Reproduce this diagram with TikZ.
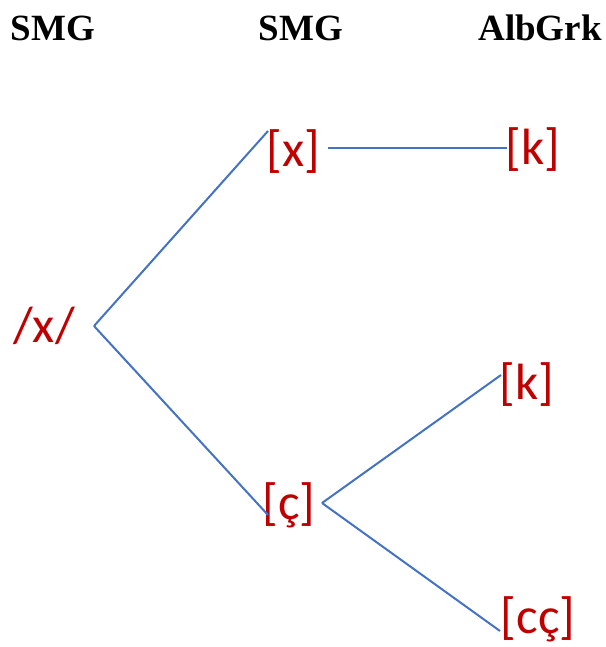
\documentclass[tikz,border=0pt]{standalone}
\usepackage{fontspec}
\setmainfont{Liberation Serif}
\newfontfamily\lblfont{Carlito}
\definecolor{lblred}{HTML}{C00000}
\definecolor{lnblue}{HTML}{4472C4}
\begin{document}
\begin{tikzpicture}[x=1pt,y=-1pt,
  hdr/.style={font=\fontsize{37}{40}\selectfont\bfseries, inner sep=0pt, anchor=center},
  lbl/.style={font=\lblfont\fontsize{51}{55}\selectfont, text=lblred, inner sep=0pt, anchor=center},
  conn/.style={draw=lnblue, line width=2pt}]
\useasboundingbox (0,0) rectangle (605,647);
% headers
\node[hdr] (h1) at (53,28) {SMG};
\node[hdr] (h2) at (301,28) {SMG};
\node[hdr] (h3) at (540,28) {AlbGrk};
% labels
\node[lbl] (sx) at (44,326) {/x/};
\node[lbl] (px) at (293.5,151.5) {[x]};
\node[lbl] (kt) at (533,150) {[k]};
\node[lbl] (pc) at (289,505) {[ç]};
\node[lbl] (km) at (527,385) {[k]};
\node[lbl] (cc) at (538,619) {[cç]};
% connector end points
\coordinate (v) at (94,326);
\coordinate (pxin) at (268,131);
\coordinate (pcin) at (268,515);
\coordinate (pxout) at (328,148);
\coordinate (ktin) at (507,148);
\coordinate (pcout) at (322,503);
\coordinate (kmin) at (501,375);
\coordinate (ccin) at (500,631);
\draw[conn] (v) -- (pxin);
\draw[conn] (v) -- (pcin);
\draw[conn] (pxout) -- (ktin);
\draw[conn] (pcout) -- (kmin);
\draw[conn] (pcout) -- (ccin);
\end{tikzpicture}
\end{document}
